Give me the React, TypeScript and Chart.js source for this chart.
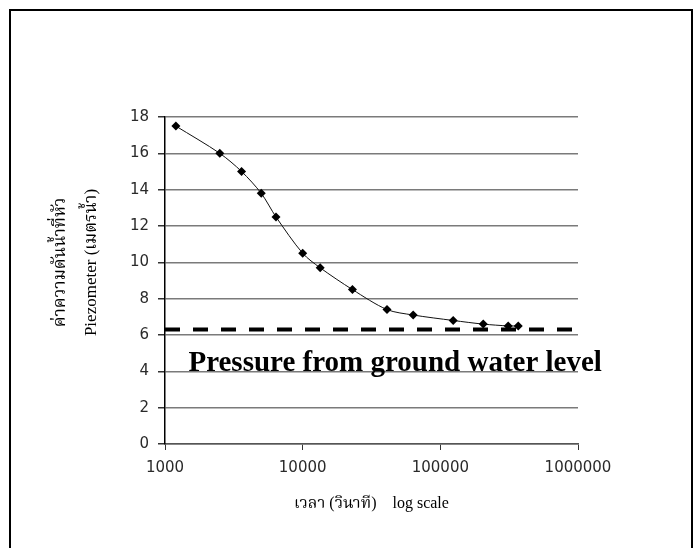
import React, { useEffect, useRef } from "react";
import { Chart, registerables } from "chart.js";

Chart.register(...registerables);

// ---- data ----
const timeSeconds = [1200, 2500, 3600, 5000, 6400, 10000, 13400, 23000, 41000, 63500, 124000, 205000, 311000, 368000];
const pressureHead = [17.5, 16.0, 15.0, 13.8, 12.5, 10.5, 9.7, 8.5, 7.4, 7.1, 6.8, 6.6, 6.5, 6.5];
const groundWaterLevel = 6.3;
const groundLineRange = [1000, 1000000];
const xTickValues = [1000, 10000, 100000, 1000000];
const yMin = 0;
const yMax = 18;
const yStep = 2;
const yTitleLines = ["ค่าความดันน้ำที่หัว", "Piezometer (เมตรน้ำ)"];
const xTitle = "เวลา (วินาที)    log scale";
const annotationText = "Pressure from ground water level";
const annotationAt = { x: 1480, y: 4 };

const SERIF = '"Liberation Serif", "Times New Roman", "Noto Serif Thai", "Noto Sans Thai", serif';
const SANS = '"DejaVu Sans", "Liberation Sans", Arial, sans-serif';

const textPlugin = {
  id: "extraTexts",
  afterDraw(chart: any) {
    const { ctx, chartArea, scales } = chart;
    // y-axis title (two rotated lines)
    ctx.save();
    const cy = (chartArea.top + chartArea.bottom) / 2 - 18;
    ctx.translate(chartArea.left - 104, cy);
    ctx.rotate(-Math.PI / 2);
    ctx.font = `17px ${SERIF}`;
    ctx.fillStyle = "#000";
    ctx.textAlign = "center";
    ctx.textBaseline = "middle";
    ctx.fillText(yTitleLines[0], 0, 0);
    ctx.fillText(yTitleLines[1], 0, 31);
    ctx.restore();
    // annotation
    ctx.save();
    ctx.font = `bold 29px ${SERIF}`;
    ctx.fillStyle = "#000";
    ctx.textAlign = "left";
    ctx.textBaseline = "alphabetic";
    ctx.fillText(
      annotationText,
      scales.x.getPixelForValue(annotationAt.x),
      scales.y.getPixelForValue(annotationAt.y)
    );
    ctx.restore();
  },
};

export default function App() {
  const canvasRef = useRef<HTMLCanvasElement | null>(null);

  useEffect(() => {
    if (!canvasRef.current) return;
    const chart = new Chart(canvasRef.current, {
      type: "line",
      data: {
        datasets: [
          {
            label: "Piezometer",
            data: timeSeconds.map((t, i) => ({ x: t, y: pressureHead[i] })),
            borderColor: "#111",
            borderWidth: 1,
            tension: 0.3,
            pointStyle: "rectRot",
            pointRadius: 4.5,
            pointBackgroundColor: "#000",
            pointBorderColor: "#000",
            pointBorderWidth: 0,
            fill: false,
          },
          {
            label: "Ground water level",
            data: groundLineRange.map((t) => ({ x: t, y: groundWaterLevel })),
            borderColor: "#000",
            borderWidth: 4,
            borderDash: [15, 13],
            pointRadius: 0,
            fill: false,
          },
        ],
      },
      options: {
        animation: false,
        responsive: true,
        maintainAspectRatio: false,
        layout: { padding: { left: 0, right: 120, top: 117, bottom: 0 } },
        plugins: {
          legend: { display: false },
          tooltip: { enabled: false },
        },
        scales: {
          x: {
            type: "logarithmic",
            min: xTickValues[0],
            max: xTickValues[xTickValues.length - 1],
            afterBuildTicks: (axis: any) => {
              axis.ticks = xTickValues.map((v) => ({ value: v }));
            },
            afterFit: (scale: any) => {
              scale.height = 104;
            },
            ticks: {
              autoSkip: false,
              maxRotation: 0,
              padding: 9,
              color: "#2a2a2a",
              font: { family: SANS, size: 15 },
              callback: (v: any) => String(v),
            },
            grid: {
              drawOnChartArea: false,
              drawTicks: true,
              tickLength: 6,
              tickColor: "#333",
            },
            border: { color: "#555", width: 1.5 },
            title: {
              display: true,
              text: xTitle,
              color: "#000",
              font: { family: SERIF, size: 16 },
              padding: { top: 0, bottom: 35 },
            },
          },
          y: {
            min: yMin,
            max: yMax,
            afterFit: (scale: any) => {
              scale.width = 165;
            },
            ticks: {
              stepSize: yStep,
              padding: 9,
              color: "#2a2a2a",
              font: { family: SANS, size: 15 },
            },
            grid: {
              color: "#7a7a7a",
              lineWidth: 1.5,
              tickLength: 7,
              tickColor: "#333",
            },
            border: { color: "#000", width: 1.5 },
          },
        },
      },
      plugins: [textPlugin],
    } as any);
    return () => chart.destroy();
  }, []);

  return (
    <div style={{ position: "fixed", left: 0, top: 0, width: 698, height: 548, background: "#fff" }}>
      <div
        style={{
          position: "absolute",
          left: 9,
          top: 9,
          width: 684,
          height: 560,
          border: "2px solid #000",
          boxSizing: "border-box",
        }}
      />
      <div style={{ position: "absolute", left: 0, top: 0, width: 698, height: 548 }}>
        <canvas ref={canvasRef} />
      </div>
    </div>
  );
}
